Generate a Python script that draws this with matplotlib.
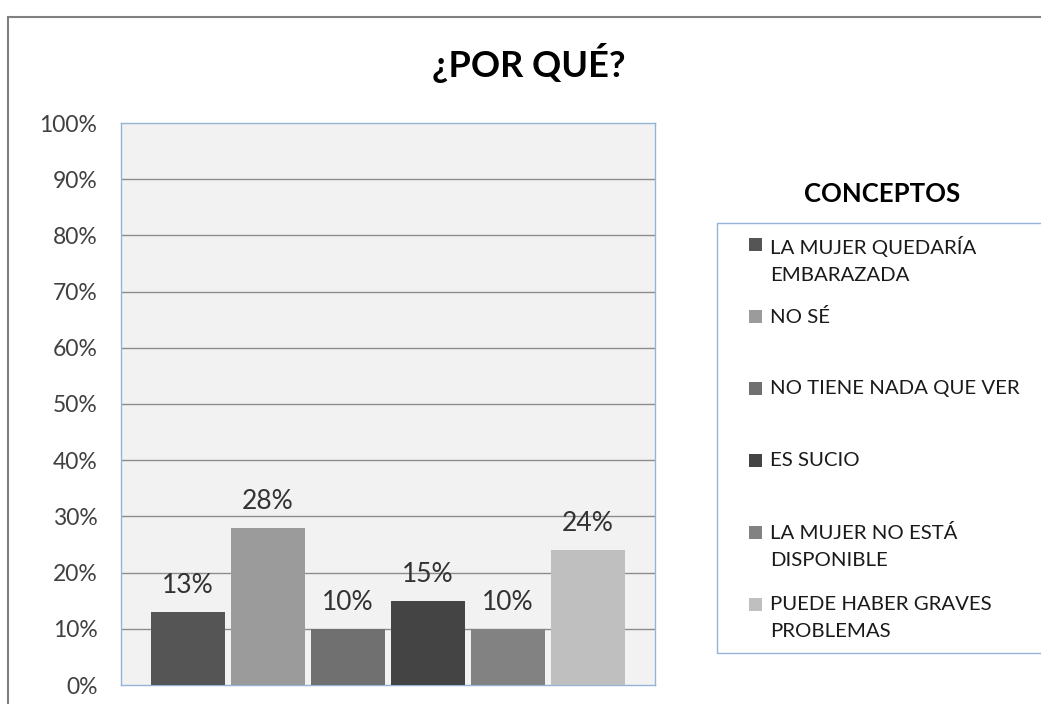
import matplotlib.pyplot as plt
from matplotlib.patches import Rectangle

# data
conceptos = ["LA MUJER QUEDARÍA\nEMBARAZADA", "NO SÉ", "NO TIENE NADA QUE VER",
             "ES SUCIO", "LA MUJER NO ESTÁ\nDISPONIBLE", "PUEDE HABER GRAVES\nPROBLEMAS"]
valores = [13, 28, 10, 15, 10, 24]
colores = ["#555555", "#9b9b9b", "#707070", "#444444", "#828282", "#bfbfbf"]
yticks = [0, 10, 20, 30, 40, 50, 60, 70, 80, 90, 100]

plt.rcParams['font.family'] = ['Lato', 'DejaVu Sans']

W, H = 1041, 704
fig = plt.figure(figsize=(W / 100, H / 100), dpi=100)

def fx(px):
    return px / W

def fy(py):
    return 1 - py / H

# outer chart frame
fig.patches.append(Rectangle((fx(8), fy(720)), fx(1060) - fx(8), fy(17) - fy(720),
                             transform=fig.transFigure, fill=False,
                             edgecolor="#7f7f7f", linewidth=1.5))

ax = fig.add_axes([fx(121), fy(685), fx(655) - fx(121), fy(123) - fy(685)])
ax.set_facecolor("#f2f2f2")

pitch = 0.1498
for i, (v, c) in enumerate(zip(valores, colores)):
    x = (i - 2.5) * pitch
    ax.bar(x, v, width=0.1386, color=c, zorder=3)
    ax.annotate(f"{v}%", (x, v), xytext=(0, 10), textcoords="offset points",
                ha="center", va="bottom", fontsize=19, color="#333333")

ax.set_xlim(-0.5, 0.5)
ax.set_ylim(0, 100)
ax.set_xticks([])
ax.set_yticks(yticks)
ax.set_yticklabels([f"{t}%" for t in yticks], fontsize=16.5, color="#404040")
ax.tick_params(axis="y", length=0, pad=17)
for t in yticks[1:-1]:
    ax.axhline(t, color="#8c8c8c", linewidth=1, zorder=1)
for s in ax.spines.values():
    s.set_color("#95b3d7")
    s.set_linewidth(1)

fig.text(fx(529), fy(77), "¿POR QUÉ?", ha="center", va="baseline",
         fontsize=26, fontweight="bold", color="#000000")

# legend
fig.text(fx(882), fy(202), "CONCEPTOS", ha="center", va="baseline",
         fontsize=18.5, fontweight="bold", color="#000000")
fig.patches.append(Rectangle((fx(717), fy(653)), fx(1060) - fx(717), fy(223) - fy(653),
                             transform=fig.transFigure, facecolor="white",
                             edgecolor="#95b3d7", linewidth=1))
for i, (lab, c) in enumerate(zip(conceptos, colores)):
    top = 236 + 72 * i
    fig.patches.append(Rectangle((fx(749), fy(top + 15)), fx(762) - fx(749), fy(top + 2) - fy(top + 15),
                                 transform=fig.transFigure, facecolor=c, edgecolor="none"))
    fig.text(fx(770), fy(top), lab, ha="left", va="top", fontsize=14.7,
             color="#1a1a1a", linespacing=1.7)

fig.savefig("out.png", dpi=100)
